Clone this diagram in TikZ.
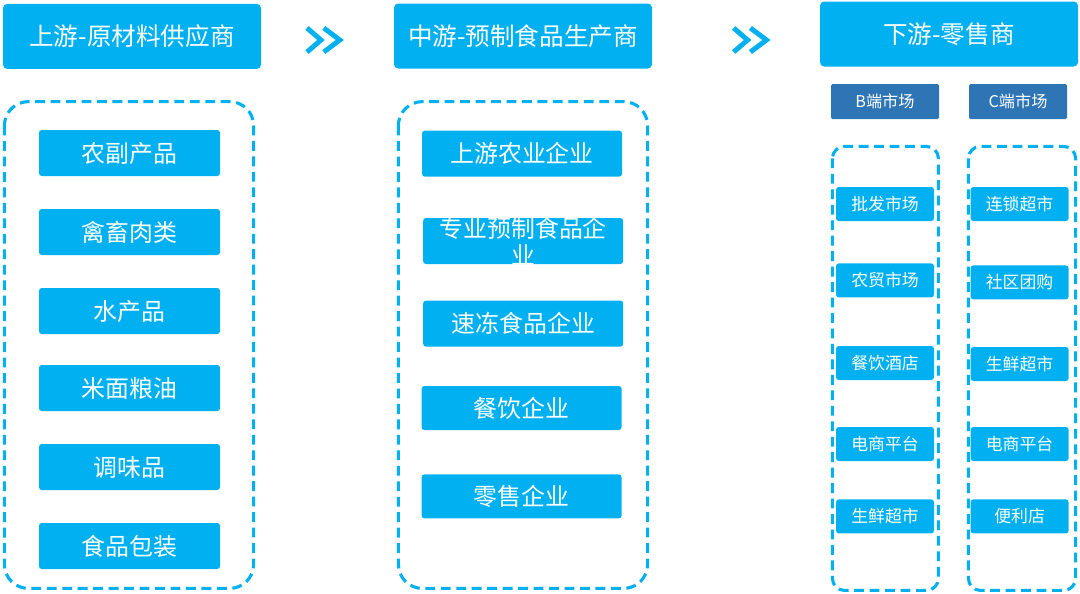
\documentclass[tikz,border=0pt]{standalone}
\usepackage{fontspec}
\newfontfamily\cjk{Noto Sans CJK SC}
\usepackage{tikz}
\usetikzlibrary{positioning}
\definecolor{skyblue}{RGB}{0,176,240}
\definecolor{steelblue}{RGB}{46,117,182}
\tikzstyle{header} = [rectangle, fill=skyblue, text=white, rounded corners=3pt,
                      minimum width=6.45cm, minimum height=1.625cm,
                      font=\cjk\fontsize{17.5}{21}\selectfont]
\tikzstyle{item} = [rectangle, fill=skyblue, text=white, rounded corners=2pt,
                    minimum width=4.525cm, minimum height=1.15cm,
                    font=\cjk\fontsize{17}{19}\selectfont]
\tikzstyle{miditem} = [item, minimum width=5cm]
\tikzstyle{market} = [rectangle, fill=steelblue, text=white, rounded corners=1pt,
                      minimum width=2.7cm, minimum height=0.875cm,
                      font=\cjk\fontsize{11.5}{14}\selectfont]
\tikzstyle{shop} = [rectangle, fill=skyblue, text=white, rounded corners=2pt,
                    minimum width=2.45cm, minimum height=0.85cm,
                    font=\cjk\fontsize{12}{14}\selectfont]
\tikzstyle{group} = [draw=skyblue, line width=2.2pt, dash pattern=on 7pt off 4pt]
\tikzstyle{chev} = [draw=skyblue, line width=3.5pt, miter limit=10]
% two chevrons >> round a coordinate
\newcommand{\twochev}[1]{%
  \draw [chev] ([shift={(-0.45,0.3)}]#1) -- ([shift={(-0.1,0)}]#1) -- ([shift={(-0.45,-0.3)}]#1);
  \draw [chev] ([shift={(-0.03,0.3)}]#1) -- ([shift={(0.37,0)}]#1) -- ([shift={(-0.03,-0.3)}]#1);}

\begin{document}
\begin{tikzpicture}[node distance=1.975cm]
    \path [fill=white] (0,0) rectangle (27,-14.825);
    \useasboundingbox (0,0) rectangle (27,-14.825);

    % headers
    \node [header] (up) at (3.3,-0.91) {上游-原材料供应商};
    \node [header] (mid) at (13.075,-0.9) {中游-预制食品生产商};
    \node [header] (down) at (23.725,-0.85) {下游-零售商};
    \coordinate (ar1) at (8.125,-1.0);
    \coordinate (ar2) at (18.79,-1.0);
    \twochev{ar1}
    \twochev{ar2}

    % upstream
    \draw [group, rounded corners=0.6cm] (0.11,-2.54) rectangle (6.34,-14.71);
    \node [item] (raw1) at (3.2375,-3.825) {农副产品};
    \node [item, below of=raw1] (raw2) {禽畜肉类};
    \node [item, below of=raw2] (raw3) {水产品};
    \node [item, below of=raw3, yshift=0.05cm] (raw4) {米面粮油};
    \node [item, below of=raw4] (raw5) {调味品};
    \node [item, below of=raw5] (raw6) {食品包装};

    % midstream
    \draw [group, rounded corners=0.6cm] (9.96,-2.54) rectangle (16.19,-14.71);
    \node [miditem] (mid1) at (13.05,-3.84) {上游农业企业};
    \node [miditem] (mid2) at (13.08,-6.025) {};
    \node [text=white, align=center, font=\cjk\fontsize{17}{19}\selectfont] (mid2txt) at (mid2) {专业预制食品企\\业};
    \node [miditem] (mid3) at (13.08,-8.09) {速冻食品企业};
    \node [miditem, minimum height=1.1cm] (mid4) at (13.04,-10.2) {餐饮企业};
    \node [miditem, minimum height=1.1cm] (mid5) at (13.04,-12.41) {零售企业};

    % downstream
    \node [market] (bside) at (22.125,-2.54) {B端市场};
    \node [market, minimum width=2.45cm] (cside) at (25.45,-2.54) {C端市场};
    \draw [group, rounded corners=0.3cm] (20.81,-3.66) rectangle (23.46,-14.76);
    \draw [group, rounded corners=0.3cm] (24.21,-3.66) rectangle (26.89,-14.76);
    \node [shop] (b1) at (22.125,-5.1) {批发市场};
    \node [shop] (b2) at (22.125,-7.01) {农贸市场};
    \node [shop] (b3) at (22.125,-9.075) {餐饮酒店};
    \node [shop] (b4) at (22.125,-11.1) {电商平台};
    \node [shop] (b5) at (22.125,-12.91) {生鲜超市};
    \node [shop] (c1) at (25.49,-5.1) {连锁超市};
    \node [shop] (c2) at (25.49,-7.06) {社区团购};
    \node [shop] (c3) at (25.49,-9.1) {生鲜超市};
    \node [shop] (c4) at (25.49,-11.1) {电商平台};
    \node [shop] (c5) at (25.49,-12.91) {便利店};
\end{tikzpicture}
\end{document}
